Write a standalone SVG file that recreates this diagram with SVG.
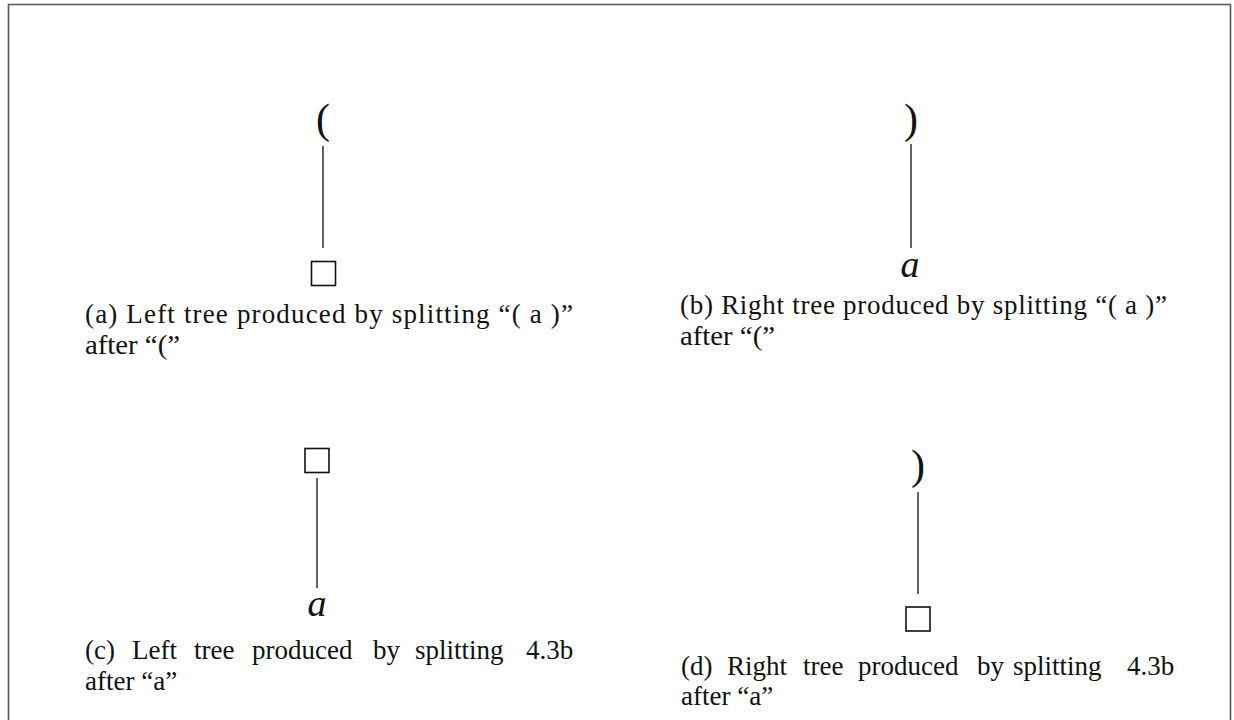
<svg xmlns="http://www.w3.org/2000/svg" width="1234" height="720" viewBox="0 0 1234 720">
<style>
.cap{font-family:"Liberation Serif","Times New Roman",serif;font-size:27px;fill:#111}
.sym{font-family:"Liberation Serif","Times New Roman",serif;font-size:42px;fill:#111;text-anchor:middle}
.var{font-family:"Liberation Serif","Times New Roman",serif;font-size:38px;font-style:italic;fill:#111;text-anchor:middle}
.box{fill:#fff;stroke:#111;stroke-width:1.6}
.edge{stroke:#222;stroke-width:1.4;fill:none}
</style>
<rect width="1234" height="720" fill="#fff"/>
<path d="M8.5,720 V4.5 H1230.5 V720" fill="none" stroke="#555" stroke-width="1.6"/>
<g id="connectors">
<line class="edge" x1="323" y1="146" x2="323" y2="248"/>
<line class="edge" x1="911" y1="144" x2="911" y2="248"/>
<line class="edge" x1="317" y1="478" x2="317" y2="588"/>
<line class="edge" x1="918" y1="492" x2="918" y2="594"/>
</g>
<g id="a-root"><text class="sym" x="323" y="133">(</text></g>
<g id="a-leaf"><rect class="box" x="311.5" y="261.5" width="24" height="24"/></g>
<g id="b-root"><text class="sym" x="911" y="133">)</text></g>
<g id="b-leaf"><text class="var" x="910" y="277">a</text></g>
<g id="c-root"><rect class="box" x="305" y="448.5" width="24" height="24"/></g>
<g id="c-leaf"><text class="var" x="317" y="616">a</text></g>
<g id="d-root"><text class="sym" x="918" y="479">)</text></g>
<g id="d-leaf"><rect class="box" x="906" y="607" width="24" height="24"/></g>
<g id="captions">
<text class="cap" x="85" y="323" textLength="488" lengthAdjust="spacing">(a) Left tree produced by splitting “( a )”</text>
<text class="cap" x="85" y="354" textLength="95" lengthAdjust="spacingAndGlyphs">after “(”</text>
<text class="cap" x="680" y="314" textLength="487" lengthAdjust="spacing">(b) Right tree produced by splitting “( a )”</text>
<text class="cap" x="680" y="345" textLength="95" lengthAdjust="spacingAndGlyphs">after “(”</text>
<text class="cap" y="659"><tspan x="85">(c)</tspan><tspan x="132">Left</tspan><tspan x="194">tree</tspan><tspan x="252">produced</tspan><tspan x="373">by</tspan><tspan x="415">splitting</tspan><tspan x="526">4.3b</tspan></text>
<text class="cap" x="85" y="690">after “a”</text>
<text class="cap" y="675"><tspan x="681">(d)</tspan><tspan x="727">Right</tspan><tspan x="803">tree</tspan><tspan x="858">produced</tspan><tspan x="977">by</tspan><tspan x="1013">splitting</tspan><tspan x="1127">4.3b</tspan></text>
<text class="cap" x="681" y="705">after “a”</text>
</g>
</svg>
